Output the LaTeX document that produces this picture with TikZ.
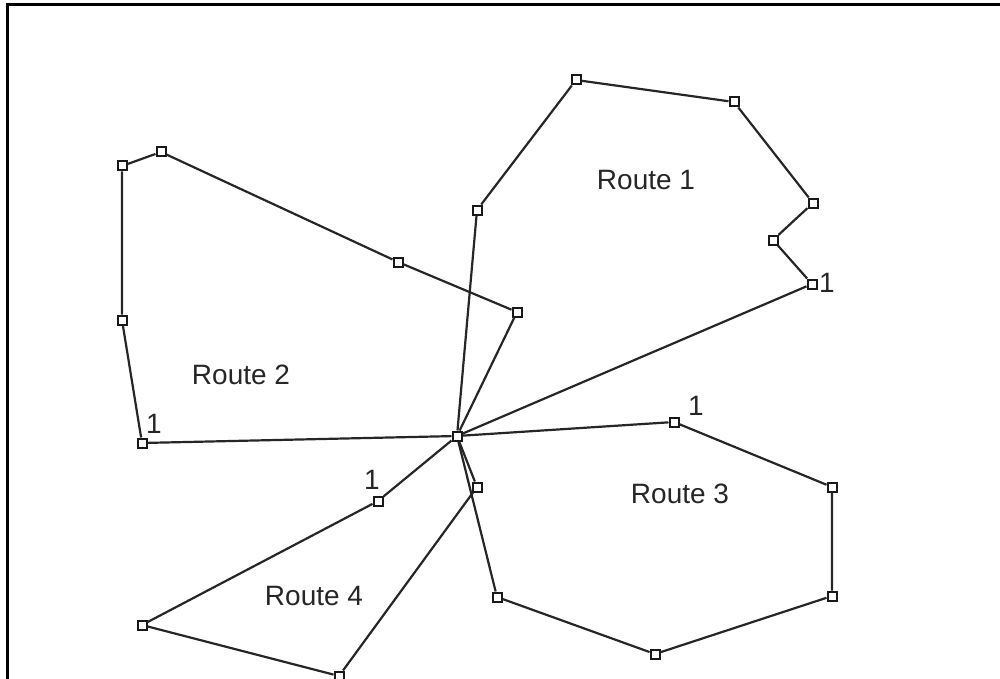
\documentclass[tikz,border=0pt]{standalone}
\usepackage{fontspec}
\setmainfont{Liberation Sans}
\tikzset{
  stop/.style={draw=black!90, fill=white, minimum size=9pt, inner sep=0pt, line width=2pt},
  leg/.style={line width=2.2pt, black!85},
  lbl/.style={font=\fontsize{28}{31}\selectfont, text=black!85, inner sep=0pt}
}
\begin{document}
\begin{tikzpicture}[x=1pt, y=-1pt]
\useasboundingbox (0,0) rectangle (1000,679);
\draw[line width=3pt] (1000,5) -- (7.5,5) -- (7.5,679);
\node[stop] (d) at (457,436) {};
\node[stop] (a1) at (477,210) {};
\node[stop] (a2) at (576,80) {};
\node[stop] (a3) at (734,102) {};
\node[stop] (a4) at (813,203) {};
\node[stop] (a5) at (773,240) {};
\node[stop] (a6) at (812,284) {};
\node[stop] (b1) at (517,312) {};
\node[stop] (b2) at (398,262) {};
\node[stop] (b3) at (161,152) {};
\node[stop] (b4) at (122,166) {};
\node[stop] (b5) at (122,320) {};
\node[stop] (b6) at (142,443) {};
\node[stop] (c1) at (674,422) {};
\node[stop] (c2) at (832,487) {};
\node[stop] (c3) at (832,596) {};
\node[stop] (c4) at (655,654) {};
\node[stop] (c5) at (497,597) {};
\node[stop] (e1) at (378,501) {};
\node[stop] (e2) at (142,625) {};
\node[stop] (e3) at (339,676) {};
\node[stop] (e4) at (477,487) {};
\draw[leg] (d) -- (a1) -- (a2) -- (a3) -- (a4) -- (a5) -- (a6) -- (d);
\draw[leg] (d) -- (b1) -- (b2) -- (b3) -- (b4) -- (b5) -- (b6) -- (d);
\draw[leg] (d) -- (c1) -- (c2) -- (c3) -- (c4) -- (c5) -- (d);
\draw[leg] (d) -- (e1) -- (e2) -- (e3) -- (e4) -- (d);
\node[lbl] (r1) at (646,180) {Route 1};
\node[lbl] (r2) at (241,375) {Route 2};
\node[lbl] (r3) at (680,494) {Route 3};
\node[lbl] (r4) at (314,596) {Route 4};
\node[lbl] (f1) at (827,283) {1};
\node[lbl] (f2) at (154,424) {1};
\node[lbl] (f3) at (696,406) {1};
\node[lbl] (f4) at (372,480) {1};
\end{tikzpicture}
\end{document}
